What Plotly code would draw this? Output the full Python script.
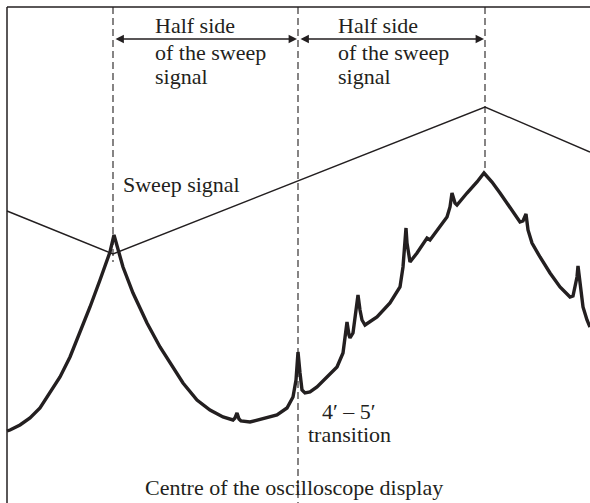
import plotly.graph_objects as go

# Sweep signal (triangle wave) vertices
sweep_x = [7, 113, 485, 590]
sweep_y = [211, 254, 107, 152]

# Oscilloscope trace (absorption spectrum with peaks)
spec_x = [7, 10, 20, 30, 40, 50, 60, 70, 80, 90, 100, 106, 110, 114,
          118, 123, 133, 147, 160, 170, 183, 197, 210, 223, 233, 235, 237, 239, 241, 250, 263, 277,
          287, 293, 296, 297, 298, 300, 302, 305, 310, 317, 327, 337, 343, 345, 347, 349, 350, 353,
          356, 358, 360, 362, 365, 377, 390, 400, 403, 406, 407, 410, 417, 427,
          430, 440, 447, 450, 452, 455, 457, 467, 477, 484,
          492, 500, 510, 520, 523, 526, 528, 532, 540, 550, 560, 570, 573, 577, 578, 580, 583, 587, 590]
spec_y = [431, 430, 425, 418, 408, 393, 377, 357, 333, 307, 280, 263, 252, 235,
          250, 267, 293, 323, 347, 363, 383, 400, 410, 417, 420, 418, 413, 419, 421, 422, 419, 415,
          408, 397, 380, 363, 352, 373, 390, 393, 392, 387, 377, 367, 353, 340, 322, 335, 338, 333,
          310, 295, 310, 320, 325, 317, 303, 287, 267, 228, 243, 262, 253, 238,
          240, 227, 217, 207, 193, 203, 205, 193, 182, 173,
          182, 193, 208, 222, 221, 214, 230, 243, 257, 273, 287, 297, 296, 277, 266, 283, 307, 320, 327]

# Vertical dashed reference lines: x position, top, bottom
dash_x = [113, 298, 485]
dash_top = [7, 7, 7]
dash_bottom = [262, 503, 172]

ink = "#231f20"
fsize = 22
font = dict(family="Liberation Serif, Times New Roman, serif", size=fsize, color=ink)

fig = go.Figure()

fig.add_trace(go.Scatter(x=sweep_x, y=sweep_y, mode="lines",
                         line=dict(color=ink, width=1.4), hoverinfo="skip"))
fig.add_trace(go.Scatter(x=spec_x, y=spec_y, mode="lines",
                         line=dict(color=ink, width=3.4), hoverinfo="skip"))

shapes = []
# frame (left and top edges)
shapes.append(dict(type="line", xref="x", yref="y", x0=7, x1=7, y0=7, y1=503,
                   line=dict(color=ink, width=1.5)))
shapes.append(dict(type="line", xref="x", yref="y", x0=7, x1=590, y0=7, y1=7,
                   line=dict(color=ink, width=1.5)))
for xv, t, b in zip(dash_x, dash_top, dash_bottom):
    shapes.append(dict(type="line", xref="x", yref="y", x0=xv, x1=xv, y0=t, y1=b,
                       line=dict(color=ink, width=1.1, dash="7px,4px")))

annotations = []
# double-headed arrows
for a, b in [(dash_x[0], dash_x[1]), (dash_x[1], dash_x[2])]:
    annotations.append(dict(x=b - 1, y=39, ax=a + 1, ay=39, xref="x", yref="y",
                            axref="x", ayref="y", text="", showarrow=True,
                            arrowhead=2, arrowside="end+start", arrowsize=1.2,
                            arrowwidth=1.4, arrowcolor=ink))


def text_at(txt, x, baseline, anchor="left"):
    annotations.append(dict(x=x, y=baseline - fsize, xref="x", yref="y", text=txt,
                            showarrow=False, xanchor=anchor, yanchor="top",
                            font=font, borderpad=0))


label_lines = ["Half side", "of the sweep", "signal"]
label_baselines = [34, 61, 85]
for xl in [154, 337]:
    for txt, bl in zip(label_lines, label_baselines):
        text_at(txt, xl, bl)

text_at("Sweep signal", 122, 193)
text_at("4\u2032 \u2013 5\u2032", 349, 420, "center")
text_at("transition", 349, 443, "center")
text_at("Centre of the oscilloscope display", 294, 496, "center")

fig.update_layout(
    width=590, height=503,
    margin=dict(l=0, r=0, t=0, b=0),
    paper_bgcolor="white", plot_bgcolor="white",
    showlegend=False,
    xaxis=dict(range=[0, 590], visible=False, fixedrange=True),
    yaxis=dict(range=[503, 0], visible=False, fixedrange=True),
    shapes=shapes, annotations=annotations,
)

fig.write_html("out.html")
